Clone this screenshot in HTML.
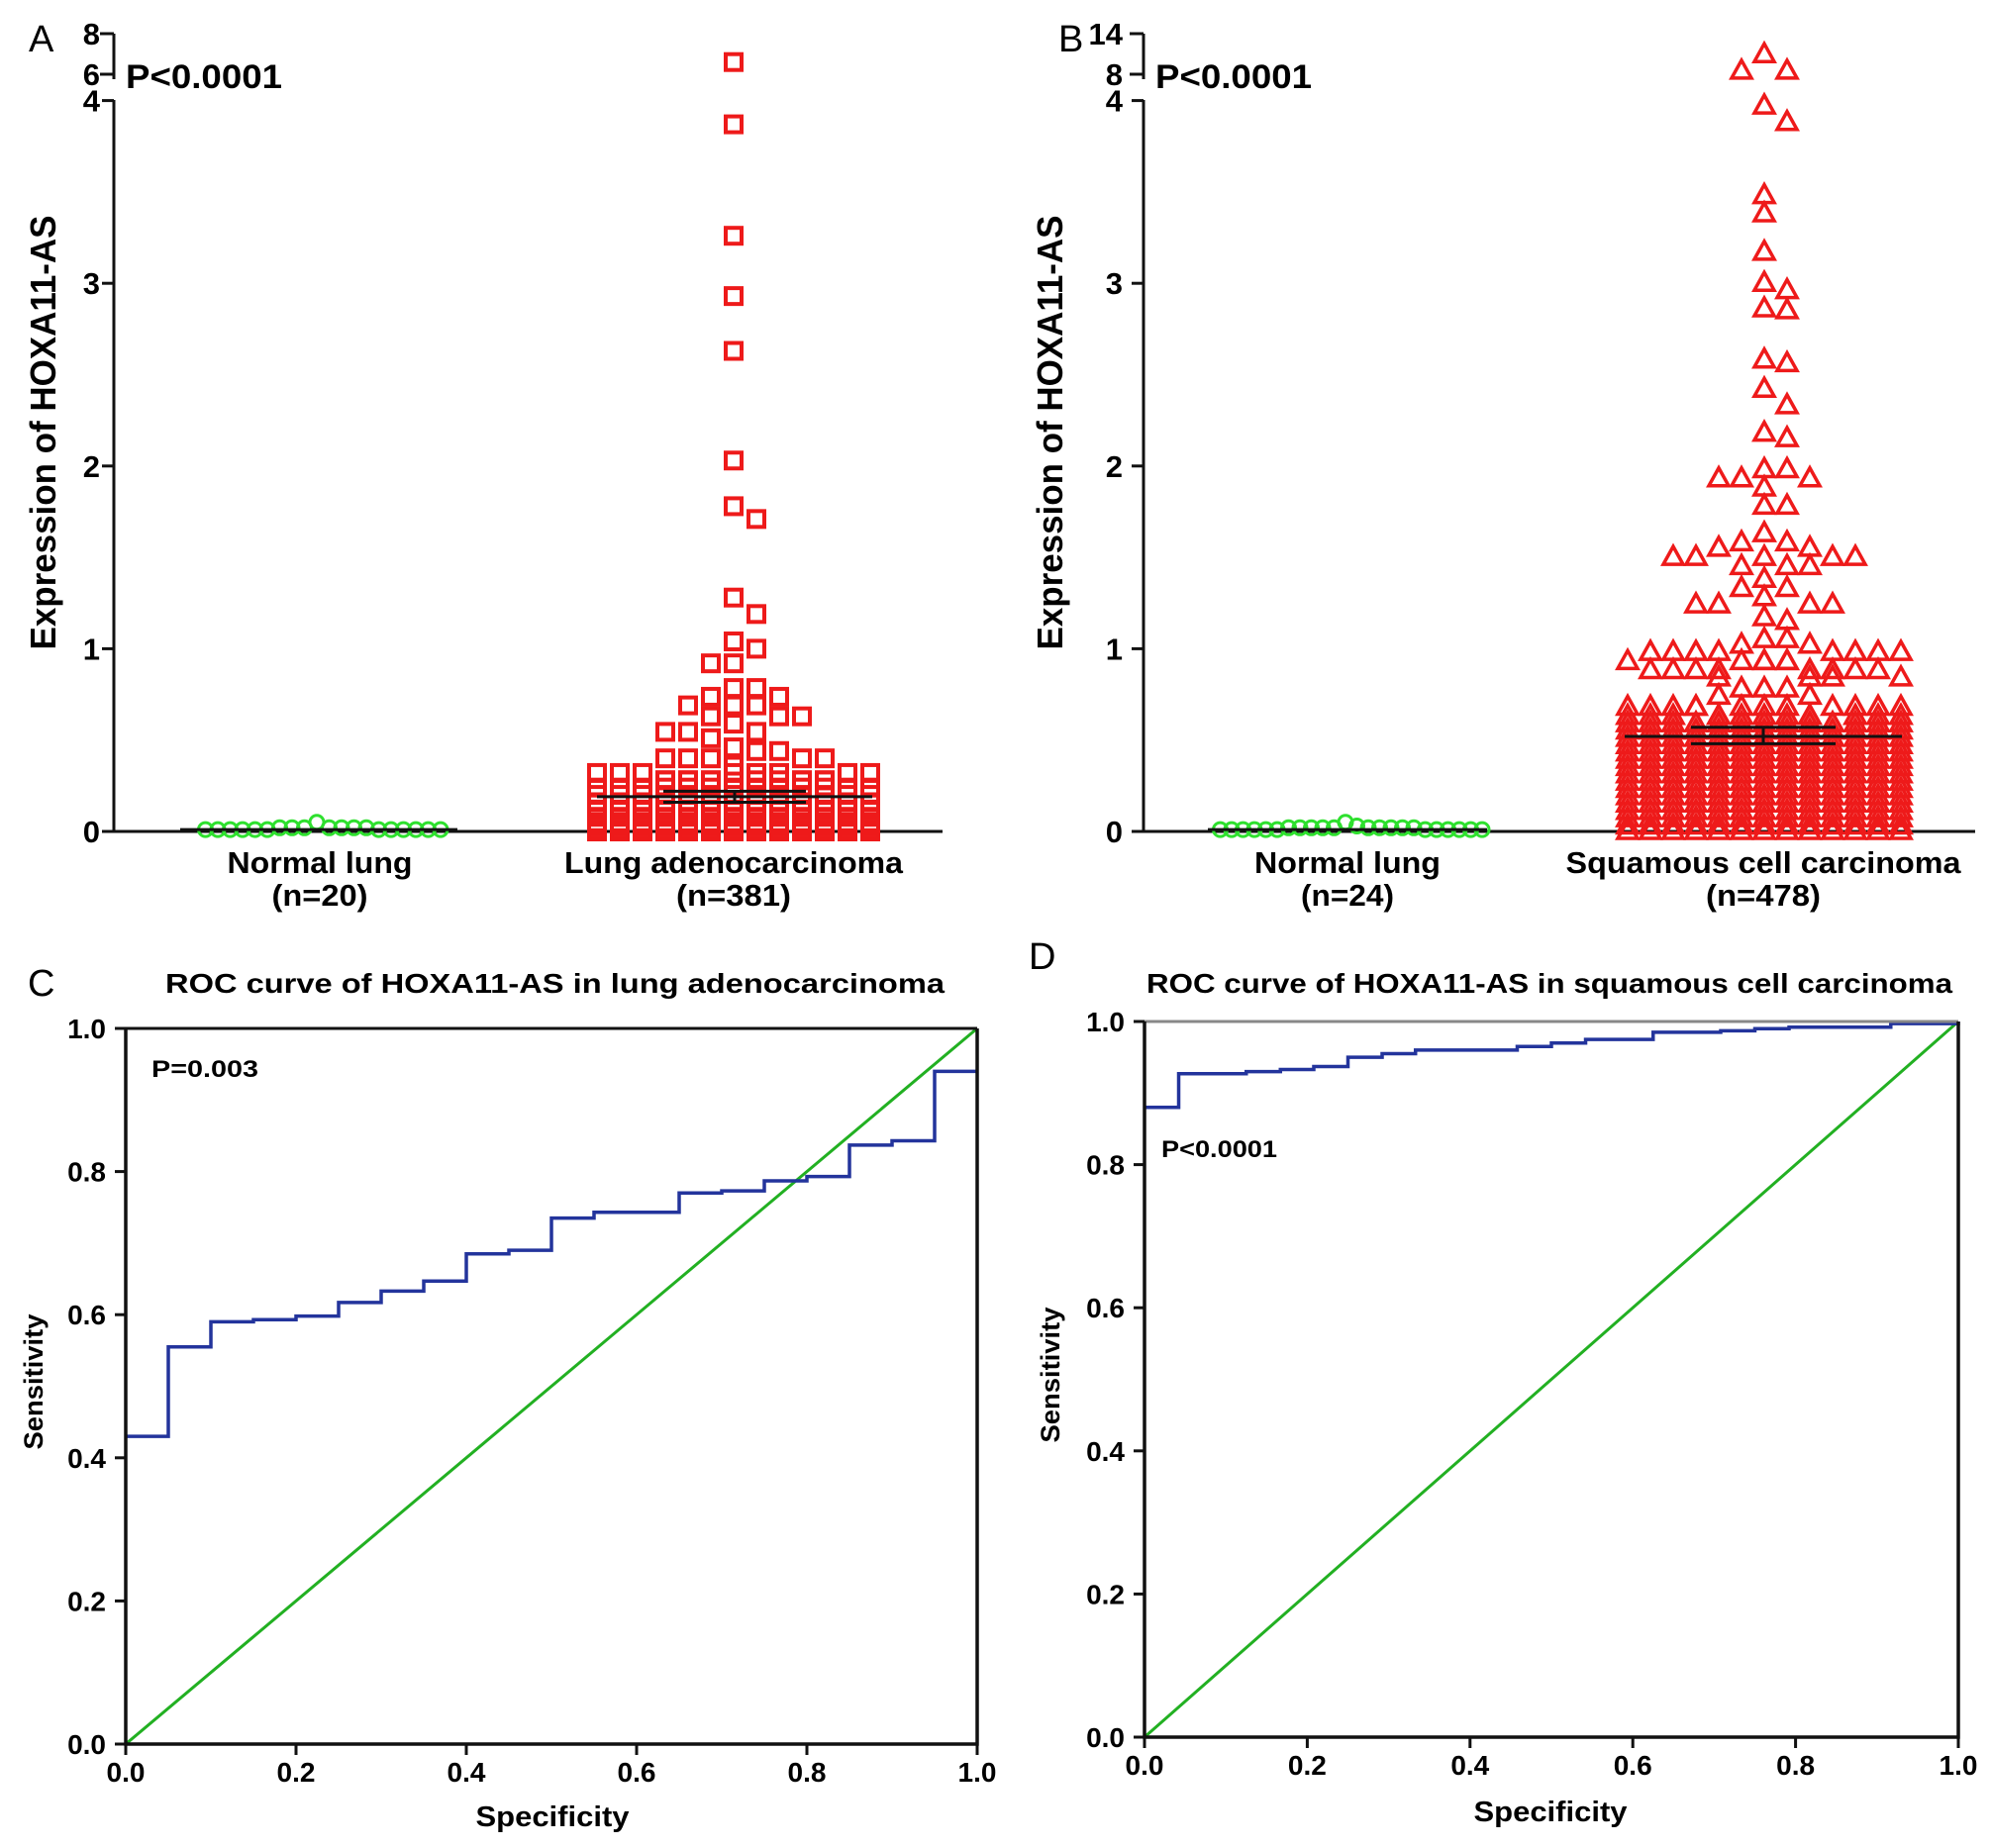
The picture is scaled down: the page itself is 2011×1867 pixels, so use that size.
<!DOCTYPE html>
<html><head><meta charset="utf-8"><title>HOXA11-AS expression and ROC</title>
<style>
html,body{margin:0;padding:0;background:#fff;}
svg{display:block;font-family:"Liberation Sans",Arial,sans-serif;}
</style></head>
<body>
<svg id="fig" xmlns="http://www.w3.org/2000/svg" width="2011" height="1867" viewBox="0 0 2011 1867">
<rect x="0" y="0" width="2011" height="1867" fill="#fff"/>
<g id="panelA"></g>
<g id="panelB"></g>
<g id="panelC"></g>
<g id="panelD"></g>
</svg>
<script>
// ---------- Data ----------
const normalA = [0.01,0.02,0.01,0.02,0.01,0.01,0.02,0.01,0.01,0.02,0.01,0.01,0.02,0.01,0.01,0.02,0.01,0.05,0.02,0.01];
const luadOutliers = [6.6,3.87,3.26,2.93,2.63,2.03,1.78,1.71,1.28,1.19,1.04,1.0,0.92,0.92,0.785,0.785,0.737,0.737,0.69,0.69,0.69,0.63,0.63,0.63,0.59,0.545,0.545,0.545,0.51,0.46,0.44,0.44,0.40,0.40,0.40,0.40,0.40,0.36];
const luadBulkLevels = [0.32,0.28,0.24,0.2,0.16,0.12,0.08,0.05,0.03,0.01,0.0];
const luadBulkCounts = [8,12,13,13,13,13,13,13,13,13,13];
const luadMean = 0.19, luadSemHi = 0.22, luadSemLo = 0.16;

const normalB = [0.02,0.01,0.02,0.01,0.01,0.02,0.01,0.01,0.02,0.01,0.05,0.02,0.01,0.01,0.02,0.01,0.02,0.01,0.01,0.02,0.01,0.02,0.03,0.02];
const sccOutliers = [10.9,8.45,8.45,3.97,3.88,3.48,3.38,3.17,3.0,2.96,2.86,2.85,2.58,2.56,2.42,2.33,2.18,2.15,1.98,1.98,1.93,1.93,1.93,1.88,1.78,1.78,1.63,1.58,1.58,1.55,1.55,1.5,1.5,1.5,1.5,1.5,1.45,1.45,1.45,1.38,1.33,1.33,1.28,1.24,1.24,1.24,1.24,1.17,1.15,1.05,1.05,1.02,1.02,0.98,0.98,0.98,0.98,0.98,0.98,0.98,0.98,0.93,0.93,0.93,0.93,0.93,0.93,0.88,0.88,0.88,0.88,0.88,0.88,0.88,0.88,0.84,0.84,0.84,0.84,0.78,0.78,0.78,0.74,0.74];
const sccBulkLevels = [0.68,0.63,0.59,0.55,0.51,0.47,0.43,0.39,0.35,0.31,0.27,0.23,0.19,0.15,0.11,0.07,0.03,0.0];
const sccBulkCounts = [12,13,13,13,13,13,13,13,13,13,13,13,13,13,13,13,13,13];
const sccMean = 0.52, sccSemHi = 0.57, sccSemLo = 0.48;

const scatterTicks = [0,1,2,3,4];
const rocTicks = [0,0.2,0.4,0.6,0.8,1.0];
const rocCSpec = [0,0.05,0.1,0.15,0.2,0.25,0.3,0.35,0.4,0.45,0.5,0.55,0.65,0.7,0.75,0.8,0.85,0.9,0.95,1.0];
const rocCSens = [0.43,0.555,0.59,0.593,0.598,0.617,0.633,0.647,0.685,0.69,0.735,0.743,0.77,0.773,0.787,0.793,0.837,0.843,0.94,0.94];
const rocDSpec = [0,0.042,0.125,0.167,0.208,0.25,0.292,0.333,0.458,0.5,0.542,0.625,0.708,0.75,0.792,0.917,1.0];
const rocDSens = [0.88,0.927,0.93,0.933,0.937,0.95,0.955,0.96,0.965,0.97,0.975,0.985,0.987,0.99,0.992,0.997,1.0];

// ---------- helpers ----------
const NS = "http://www.w3.org/2000/svg";
function mk(parent, tag, attrs, text){
  const e = document.createElementNS(NS, tag);
  for (const k in attrs) e.setAttribute(k, attrs[k]);
  if (text !== undefined) e.textContent = text;
  parent.appendChild(e);
  return e;
}
const RED = "#ee1a1a", GREEN = "#2ee02e";

function lowerY(v){ return 840 - v * 184.6; }
function makeYA(v){ return v <= 4.05 ? lowerY(v) : 75 - (v - 6) * 20.5; }
function makeYB(v){ return v <= 4.05 ? lowerY(v) : 75 - (v - 8) * 6.83; }

function expand(levels, counts){
  const out = [];
  levels.forEach((l, i) => { for (let j = 0; j < counts[i]; j++) out.push(l); });
  return out;
}
function kOf(col){ return col === 0 ? 0 : (col % 2 ? (col + 1) / 2 : -col / 2); }

function swarm(g, values, yFn, cx, spacing, maxCols, minDy, shape, color){
  const sorted = values.slice().sort((a, b) => b - a);
  const placed = {};
  let fallback = 0;
  sorted.forEach(v => {
    const py = yFn(v);
    let k = null;
    for (let c = 0; c < maxCols; c++) {
      const kk = kOf(c);
      const list = placed[kk] || [];
      if (!list.some(y => Math.abs(y - py) < minDy)) { k = kk; break; }
    }
    if (k === null) { k = kOf(fallback % maxCols); fallback++; }
    (placed[k] = placed[k] || []).push(py);
    const x = cx + k * spacing;
    let el;
    if (shape === "square") {
      el = mk(g, "rect", {x: x - 8, y: py - 8, width: 16, height: 16, fill: "none", stroke: color, "stroke-width": 4});
    } else if (shape === "triangle") {
      el = mk(g, "path", {d: `M${x},${py - 11} L${x + 10},${py + 7} L${x - 10},${py + 7} Z`, fill: "none", stroke: color, "stroke-width": 3.5});
    } else {
      el = mk(g, "circle", {cx: x, cy: py, r: 7, fill: "none", stroke: color, "stroke-width": 3});
    }
    
    
  });
}

function meanBar(g, yFn, cx, halfW, mean, hi, lo, semHalf){
  let e = mk(g, "line", {x1: cx - halfW, x2: cx + halfW, y1: yFn(mean), y2: yFn(mean), stroke: "#111", "stroke-width": 3});
  
  
  if (semHalf) {
    [hi, lo].forEach(v => {
      const s = mk(g, "line", {x1: cx - semHalf, x2: cx + semHalf, y1: yFn(v), y2: yFn(v), stroke: "#111", "stroke-width": 3});
      
      
    });
    const c = mk(g, "line", {x1: cx, x2: cx, y1: yFn(hi), y2: yFn(lo), stroke: "#111", "stroke-width": 3});
    
    
  }
}

function scatterPanel(g, o){
  let t = mk(g, "text", {x: o.ax - 86, y: 52, "font-size": 38}, o.letter);
  
  
  const ax = o.ax;
  let a = mk(g, "line", {x1: ax, x2: ax, y1: 101, y2: 841, stroke: "#111", "stroke-width": 3});
  
  
  a = mk(g, "line", {x1: ax, x2: ax, y1: 34, y2: 80, stroke: "#111", "stroke-width": 3});
  
  
  a = mk(g, "line", {x1: ax, x2: o.xEnd, y1: 840, y2: 840, stroke: "#111", "stroke-width": 3});
  
  
  scatterTicks.forEach(v => {
    const y = lowerY(v);
    const tk = mk(g, "line", {x1: ax - 12, x2: ax, y1: y, y2: y, stroke: "#111", "stroke-width": 3});
    
    
    const lb = mk(g, "text", {x: o.labelRight, y: y + 11, "font-size": 31, "font-weight": "bold", "text-anchor": "end"}, String(v));
    
    
  });
  o.upperTicks.forEach((lab, i) => {
    const y = [75, 34][i];
    const tk = mk(g, "line", {x1: ax - 14, x2: ax, y1: y, y2: y, stroke: "#111", "stroke-width": 3});
    
    
    const lb = mk(g, "text", {x: o.labelRight, y: y + 11, "font-size": 31, "font-weight": "bold", "text-anchor": "end"}, lab);
    
    
  });
  t = mk(g, "text", {x: ax + 12, y: 89, "font-size": 34, "font-weight": "bold", textLength: 158, lengthAdjust: "spacingAndGlyphs"}, "P<0.0001");
  
  
  t = mk(g, "text", {x: 0, y: 0, "font-size": 36, "font-weight": "bold", "text-anchor": "middle", textLength: 439, lengthAdjust: "spacingAndGlyphs", transform: `translate(${o.ylabX},437) rotate(-90)`}, "Expression of HOXA11-AS");
  
  
  o.cats.forEach(c => {
    let l = mk(g, "text", {x: c.cx, y: 882, "font-size": 31, "font-weight": "bold", "text-anchor": "middle", textLength: c.w1, lengthAdjust: "spacingAndGlyphs"}, c.l1);
    
    
    l = mk(g, "text", {x: c.cx, y: 915, "font-size": 31, "font-weight": "bold", "text-anchor": "middle", textLength: c.w2, lengthAdjust: "spacingAndGlyphs"}, c.l2);
    
    
  });
}

function rocPanel(g, o){
  const X = s => o.left + s * (o.right - o.left);
  const Y = v => o.bottom - v * (o.bottom - o.top);
  let t = mk(g, "text", {x: o.letterX, y: o.letterY, "font-size": 38}, o.letter);
  
  
  t = mk(g, "text", {x: (o.titleL + o.titleR) / 2, y: o.titleY, "font-size": 28, "font-weight": "bold", "text-anchor": "middle", textLength: o.titleR - o.titleL, lengthAdjust: "spacingAndGlyphs"}, o.title);
  
  
  let d = mk(g, "line", {x1: X(0), y1: Y(0), x2: X(1), y2: Y(1), stroke: "#22b022", "stroke-width": 3});
  
  
  let p = `M${X(o.spec[0])},${Y(o.sens[0])}`;
  for (let i = 1; i < o.spec.length; i++) p += ` H${X(o.spec[i])} V${Y(o.sens[i])}`;
  d = mk(g, "path", {d: p, fill: "none", stroke: "#23349c", "stroke-width": 3.5});
  
  
  d = mk(g, "line", {x1: o.left, x2: o.right, y1: o.top, y2: o.top, stroke: o.topColor, "stroke-width": 3});
  
  
  d = mk(g, "path", {d: `M${o.left},${o.top} V${o.bottom} H${o.right} V${o.top}`, fill: "none", stroke: "#111", "stroke-width": 3.5});
  
  
  rocTicks.forEach(v => {
    let tk = mk(g, "line", {x1: o.left - 11, x2: o.left, y1: Y(v), y2: Y(v), stroke: "#111", "stroke-width": 3});
    
    
    let lb = mk(g, "text", {x: o.left - 20, y: Y(v) + 10, "font-size": 28, "font-weight": "bold", "text-anchor": "end"}, v.toFixed(1));
    
    
    tk = mk(g, "line", {x1: X(v), x2: X(v), y1: o.bottom, y2: o.bottom + 11, stroke: "#111", "stroke-width": 3});
    
    
    lb = mk(g, "text", {x: X(v), y: o.xtickY, "font-size": 28, "font-weight": "bold", "text-anchor": "middle"}, v.toFixed(1));
    
    
  });
  t = mk(g, "text", {x: o.xlabX, y: o.xlabY, "font-size": 29, "font-weight": "bold", "text-anchor": "middle", textLength: 155, lengthAdjust: "spacingAndGlyphs"}, "Specificity");
  
  
  t = mk(g, "text", {x: 0, y: 0, "font-size": 27, "font-weight": "bold", "text-anchor": "middle", textLength: 137, lengthAdjust: "spacingAndGlyphs", transform: `translate(${o.ylabX},${o.ylabY}) rotate(-90)`}, "Sensitivity");
  
  
  t = mk(g, "text", {x: o.pX, y: o.pY, "font-size": 24, "font-weight": "bold", textLength: o.pW, lengthAdjust: "spacingAndGlyphs"}, o.pText);
  
  
}

// ---------- Panel A ----------
const gA = document.getElementById("panelA");
scatterPanel(gA, {letter: "A", ax: 115, xEnd: 952, labelRight: 101, upperTicks: ["6", "8"], ylabX: 56,
  cats: [{cx: 323, l1: "Normal lung", w1: 187, l2: "(n=20)", w2: 97}, {cx: 741, l1: "Lung adenocarcinoma", w1: 342, l2: "(n=381)", w2: 116}]});
swarm(gA, luadOutliers.concat(expand(luadBulkLevels, luadBulkCounts)), makeYA, 741, 23, 13, 17, "square", RED);
swarm(gA, normalA, makeYA, 320, 12.5, 20, 60, "circle", GREEN);
meanBar(gA, makeYA, 322, 140, 0.01, 0, 0, 0);
meanBar(gA, makeYA, 742, 139, luadMean, luadSemHi, luadSemLo, 72);

// ---------- Panel B ----------
const gB = document.getElementById("panelB");
scatterPanel(gB, {letter: "B", ax: 1155, xEnd: 1995, labelRight: 1134, upperTicks: ["8", "14"], ylabX: 1073,
  cats: [{cx: 1361, l1: "Normal lung", w1: 188, l2: "(n=24)", w2: 94}, {cx: 1781, l1: "Squamous cell carcinoma", w1: 399, l2: "(n=478)", w2: 116}]});
swarm(gB, sccOutliers.concat(expand(sccBulkLevels, sccBulkCounts)), makeYB, 1782, 23, 13, 17, "triangle", RED);
swarm(gB, normalB, makeYB, 1359, 11.5, 24, 60, "circle", GREEN);
meanBar(gB, makeYB, 1361, 141, 0.01, 0, 0, 0);
meanBar(gB, makeYB, 1781, 140, sccMean, sccSemHi, sccSemLo, 73);

// ---------- Panel C ----------
rocPanel(document.getElementById("panelC"), {letter: "C", letterX: 28, letterY: 1006,
  title: "ROC curve of HOXA11-AS in lung adenocarcinoma", titleL: 167, titleR: 954, titleY: 1003,
  left: 127, right: 987, top: 1039, bottom: 1762, topColor: "#111",
  spec: rocCSpec, sens: rocCSens, xtickY: 1800, xlabX: 558, xlabY: 1845, ylabX: 43, ylabY: 1396,
  pX: 153, pY: 1088, pW: 108, pText: "P=0.003"});

// ---------- Panel D ----------
rocPanel(document.getElementById("panelD"), {letter: "D", letterX: 1039, letterY: 979,
  title: "ROC curve of HOXA11-AS in squamous cell carcinoma", titleL: 1158, titleR: 1972, titleY: 1003,
  left: 1156, right: 1978, top: 1032, bottom: 1755, topColor: "#888",
  spec: rocDSpec, sens: rocDSens, xtickY: 1793, xlabX: 1566, xlabY: 1840, ylabX: 1070, ylabY: 1389,
  pX: 1173, pY: 1169, pW: 117, pText: "P<0.0001"});
</script>
</body></html>
